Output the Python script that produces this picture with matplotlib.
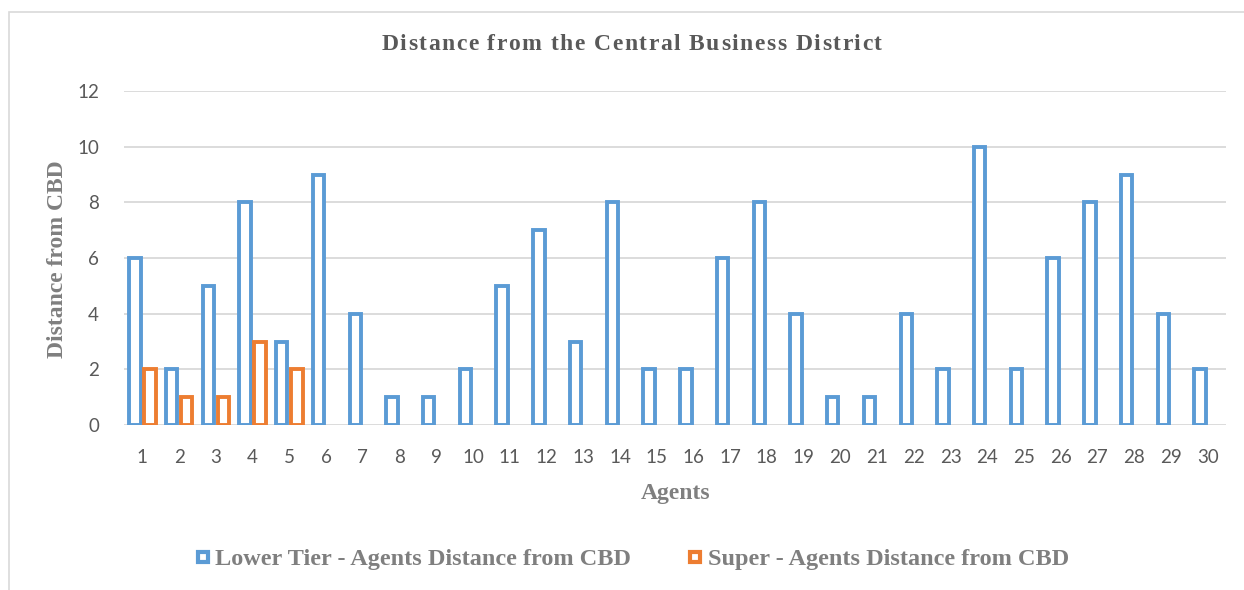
import numpy as np
import matplotlib
matplotlib.use("Agg")
import matplotlib.pyplot as plt
from matplotlib.lines import Line2D
from matplotlib.patches import Rectangle

## Data
agents = [str(i) for i in range(1, 31)]
lower_tier = [6, 2, 5, 8, 3, 9, 4, 1, 1, 2, 5, 7, 3, 8, 2, 2, 6, 8, 4, 1,
              1, 4, 2, 10, 2, 6, 8, 9, 4, 2]
super_tier = [2, 1, 1, 3, 2]   # only the first five agents have a value

blue = "#5B9BD5"
orange = "#ED7D31"
grid_col = "#D9D9D9"
text_dark = "#595959"
text_mid = "#7F7F7F"
serif = "Liberation Serif"

W, H = 1244, 590
fig = plt.figure(figsize=(W / 100, H / 100), dpi=100)

# chart area border (Excel style)
fig.patches.append(Rectangle((8.5 / W, -0.05), 1.2, 1 - 11.5 / H + 0.05,
                             transform=fig.transFigure, fill=False,
                             edgecolor=grid_col, linewidth=1.2))

ax = fig.add_axes([124 / W, 165 / H, (1226 - 124) / W, (425 - 91) / H])

x = np.arange(len(agents))
width = 0.31
offset = 0.205
ax.bar(x - offset, lower_tier, width, facecolor="white", edgecolor=blue,
       linewidth=2.8, zorder=3)
ax.bar(x[:len(super_tier)] + offset, super_tier, width, facecolor="white",
       edgecolor=orange, linewidth=2.8, zorder=3)

ax.set_xlim(-0.5, len(agents) - 0.5)
ax.set_ylim(0, 12)
ax.set_yticks(range(0, 13, 2))
ax.set_xticks(x)
ax.set_xticklabels(agents)
ax.yaxis.grid(True, color=grid_col, linewidth=1.3, zorder=0)
ax.set_axisbelow(True)
for s in ax.spines.values():
    s.set_visible(False)
ax.tick_params(axis="both", length=0, labelsize=13.5, labelcolor=text_dark)
ax.tick_params(axis="y", pad=18)
ax.tick_params(axis="x", pad=17)
for lab in ax.get_xticklabels() + ax.get_yticklabels():
    lab.set_family("Lato")


def tracked_text(s, xc, y, track, **kw):
    # draw a string one character at a time with extra letter spacing
    r = fig.canvas.get_renderer()
    def w(t):
        tt = fig.text(0, 0, t + "|", **kw)
        bar = fig.text(0, 0, "|", **kw)
        v = tt.get_window_extent(r).width - bar.get_window_extent(r).width
        tt.remove()
        bar.remove()
        return v
    total = w(s) + track * (len(s) - 1)
    x0 = xc * W - total / 2
    for i, ch in enumerate(s):
        if ch == " ":
            continue
        px = x0 + w(s[:i]) + track * i
        fig.text(px / W, y, ch, ha="left", va="center", **kw)


tracked_text("Distance from the Central Business District", 631.5 / W,
             1 - 45 / H, 1.5, family=serif, weight="bold", fontsize=17,
             color=text_dark)
fig.text(676 / W, 1 - 493 / H, "Agents", ha="center", va="center",
         family=serif, weight="bold", fontsize=17, color=text_mid)
fig.text(58 / W, 1 - 259 / H, "Distance from CBD", ha="center", va="center",
         rotation=90, family=serif, weight="bold", fontsize=17,
         color=text_mid)

handles = [Line2D([], [], linestyle="none", marker="s", markersize=6.5,
                  markerfacecolor="white", markeredgecolor=c,
                  markeredgewidth=3.0) for c in (blue, orange)]
leg = fig.legend(handles, ["Lower Tier - Agents Distance from CBD",
                           "Super - Agents Distance from CBD"],
                 loc="center", bbox_to_anchor=(633 / W, 1 - 559 / H), ncol=2,
                 frameon=False, handlelength=0.45, handletextpad=0.3,
                 columnspacing=2.4,
                 prop={"family": serif, "weight": "bold", "size": 17.5})
for t in leg.get_texts():
    t.set_color(text_mid)

fig.savefig("out.png", dpi=100)
